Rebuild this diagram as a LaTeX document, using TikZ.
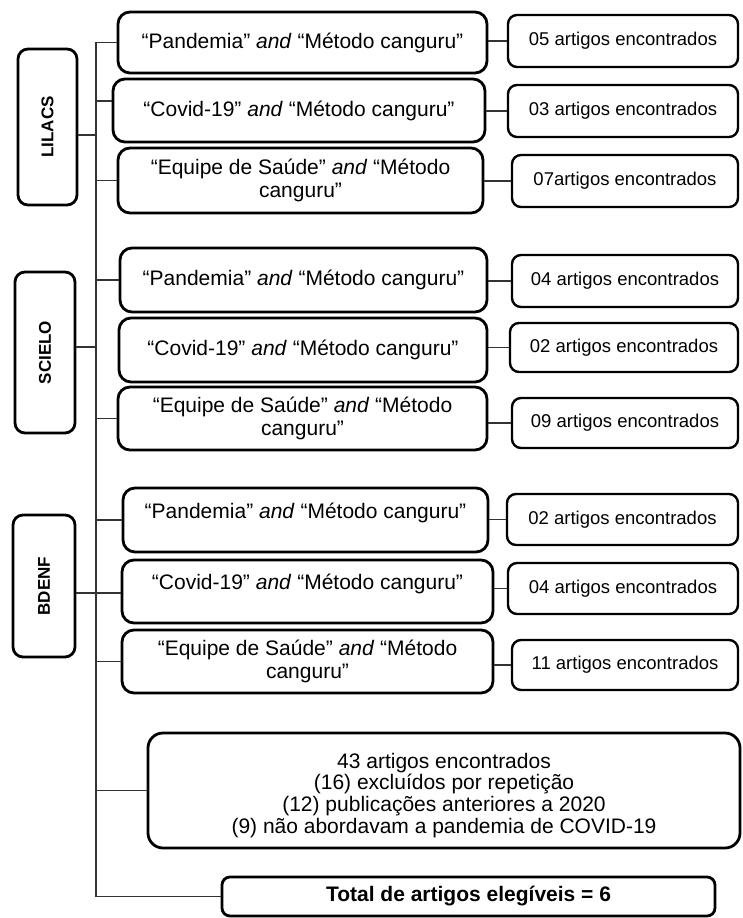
\documentclass[tikz,border=0pt]{standalone}
\usepackage{fontspec}
\usepackage{graphicx}
\setmainfont{Liberation Sans}
\usetikzlibrary{calc}
\begin{document}
\begin{tikzpicture}[x=1pt,y=-1pt,
  qbox/.style={draw=black,line width=2.8pt,rounded corners=12pt,fill=white,
    align=center,inner sep=0pt,font=\fontsize{21}{22.5}\selectfont},
  rbox/.style={draw=black,line width=2.4pt,rounded corners=9pt,fill=white,
    align=center,inner sep=0pt,font=\fontsize{18.5}{20}\selectfont},
  sbox/.style={draw=black,line width=2.8pt,rounded corners=10pt,fill=white,
    inner sep=0pt,font=\fontsize{17}{18}\selectfont\bfseries},
  mbox/.style={draw=black,line width=2.8pt,rounded corners=15pt,fill=white,
    inner sep=0pt,font=\fontsize{21}{21.5}\selectfont},
  tbox/.style={draw=black,line width=2.8pt,rounded corners=8pt,fill=white,
    inner sep=0pt,font=\fontsize{21}{22}\selectfont\bfseries},
  conn/.style={draw=black!80,line width=1.1pt}]
\useasboundingbox[fill=white] (0,0) rectangle (742,918);

% side boxes
\node[sbox,minimum width=59pt,minimum height=156pt] (LIL) at (47.5,127) {\rotatebox{90}{LILACS}};
\node[sbox,minimum width=60pt,minimum height=161pt] (SCI) at (45,352.5) {\rotatebox{90}{SCIELO}};
\node[sbox,minimum width=62pt,minimum height=142pt] (BDE) at (44,586) {\rotatebox{90}{BDENF}};

% query boxes
\newcommand{\qPan}{“Pandemia” \textit{and} “Método canguru”}
\newcommand{\qCov}{“Covid-19” \textit{and} “Método canguru”}
\newcommand{\qEq}{“Equipe de Saúde” \textit{and} “Método\\canguru”}
\node[qbox,minimum width=369pt,minimum height=61pt] (L1) at (302.5,42.5) {\qPan};
\node[qbox,minimum width=372pt,minimum height=63pt] (L2) at (299,110.5) {\qCov};
\node[qbox,minimum width=365pt,minimum height=65pt] (L3) at (300.5,180.5) {\qEq};
\node[qbox,minimum width=367pt,minimum height=64pt] (S1) at (303.5,280) {\qPan};
\node[qbox,minimum width=368pt,minimum height=64pt] (S2) at (303,350) {\qCov};
\node[qbox,minimum width=369pt,minimum height=63pt] (S3) at (302.5,418.5) {\qEq};
\node[qbox,minimum width=365pt,minimum height=64pt,text height=15pt,text depth=18pt] (B1) at (305.5,520) {\qPan};
\node[qbox,minimum width=371pt,minimum height=63pt,text height=15pt,text depth=19pt] (B2) at (307.5,591.5) {\qCov};
\node[qbox,minimum width=371pt,minimum height=63pt] (B3) at (307.5,661.5) {\qEq};

% result boxes
\node[rbox,minimum width=230pt,minimum height=52pt] (L1r) at (623,41) {05 artigos encontrados};
\node[rbox,minimum width=230pt,minimum height=52pt] (L2r) at (623,111) {03 artigos encontrados};
\node[rbox,minimum width=226pt,minimum height=52pt] (L3r) at (625,181) {07artigos encontrados};
\node[rbox,minimum width=226pt,minimum height=52pt] (S1r) at (625,281) {04 artigos encontrados};
\node[rbox,minimum width=228pt,minimum height=49pt] (S2r) at (624,347.5) {02 artigos encontrados};
\node[rbox,minimum width=226pt,minimum height=50pt] (S3r) at (625,423) {09 artigos encontrados};
\node[rbox,minimum width=231pt,minimum height=51pt] (B1r) at (622.5,519.5) {02 artigos encontrados};
\node[rbox,minimum width=230pt,minimum height=51pt] (B2r) at (623,588.5) {04 artigos encontrados};
\node[rbox,minimum width=226pt,minimum height=50pt] (B3r) at (625,665) {11 artigos encontrados};

% summary and total
\node[mbox,minimum width=592pt,minimum height=115pt] (SUM) at (444,790.5)
  {\smash{\begin{tabular}{@{}c@{}}43 artigos encontrados\\(16) excluídos por repetição\\(12) publicações anteriores a 2020\\(9) não abordavam a pandemia de COVID-19\end{tabular}}\rule{0pt}{22pt}};
\node[tbox,minimum width=493pt,minimum height=39pt] (TOT) at (468.5,896.5) {Total de artigos elegíveis = 6};

% trunk
\coordinate (tt) at (96,0);
\draw[conn] (L1.west) -- (L1.west -| tt) -- (TOT.west -| tt) -- (TOT.west);

% side connectors
\path ([yshift=-8pt]LIL.east) coordinate (lilc);
\path ([yshift=5.5pt]SCI.east) coordinate (scic);
\path ([yshift=-7pt]BDE.east) coordinate (bdec);
\draw[conn] (lilc) -- (lilc -| tt);
\draw[conn] (scic) -- (scic -| tt);
\draw[conn] (bdec) -- (bdec -| B2.west);

% branches to query boxes
\path ([yshift=9.5pt]L2.west) coordinate (l2b);
\draw[conn] (l2b -| tt) -- (l2b);
\draw[conn] (L3.west -| tt) -- (L3.west);
\draw[conn] (S1.west -| tt) -- (S1.west);
\draw[conn] (S3.west -| tt) -- (S3.west);
\draw[conn] (B1.west -| tt) -- (B1.west);
\draw[conn] (B3.west -| tt) -- (B3.west);
\draw[conn] (SUM.west -| tt) -- (SUM.west);

% query to result connectors
\foreach \q in {L1,L2,L3,S1,S2,S3,B1,B2,B3}{
  \draw[conn] (\q r.west -| \q.east) -- (\q r.west);
}
\end{tikzpicture}
\end{document}
